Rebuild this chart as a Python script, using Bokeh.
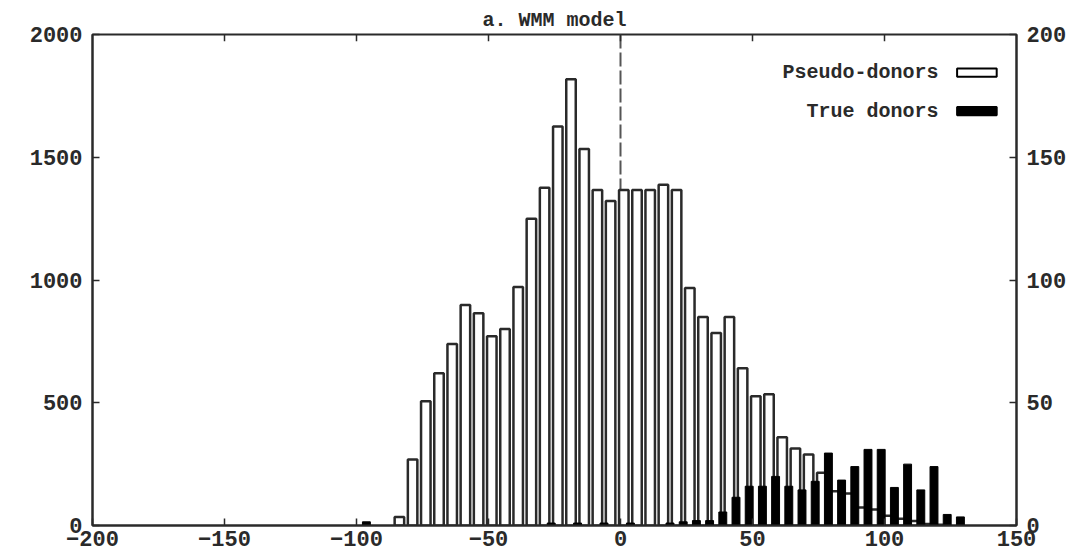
from bokeh.plotting import figure
from bokeh.models import Range1d, LinearAxis, FixedTicker, Span, Label, BoxAnnotation
from bokeh.embed import file_html
from bokeh.resources import INLINE

# ---- data (bin start of each 5-unit score bin) ----
pseudo_bins = [-85, -80, -75, -70, -65, -60, -55, -50, -45, -40, -35, -30, -25, -20, -15,
               -10, -5, 0, 5, 10, 15, 20, 25, 30, 35, 40, 45, 50, 55, 60, 65, 70, 75, 80,
               85, 90, 95, 100, 105, 110, 115, 120]
pseudo_counts = [35, 269, 506, 620, 739, 898, 865, 771, 800, 971, 1249, 1376, 1625, 1818, 1534,
                 1367, 1322, 1367, 1367, 1367, 1388, 1367, 967, 849, 784, 849, 641, 526, 535,
                 359, 314, 289, 215, 140, 130, 73, 65, 40, 28, 18, 6, 3]

true_bins = [-100, -30, -20, -10, 0, 15, 20, 25, 30, 35, 40, 45, 50, 55, 60, 65, 70, 75,
             80, 85, 90, 95, 100, 105, 110, 115, 120, 125]
true_counts = [1.5, 1, 1, 1, 1, 1, 1.5, 2, 2, 5.5, 11.5, 16, 16, 20, 16, 14.5, 18, 29.5,
               18.5, 24, 31, 31, 15.5, 25, 14.5, 24, 4.5, 3.5]

x_ticks = [-200, -150, -100, -50, 0, 50, 100, 150]
left_ticks = [0, 500, 1000, 1500, 2000]
right_ticks = [0, 50, 100, 150, 200]

title_text = "a. WMM model"
series_names = ["Pseudo-donors", "True donors"]

FONT = "Liberation Mono"
FS = "22px"
INK = "#2a2a2a"

p = figure(width=1085, height=555, output_backend="svg", toolbar_location=None,
           x_range=Range1d(-200, 150), y_range=Range1d(0, 2000),
           min_border_left=92, min_border_right=69, min_border_top=34, min_border_bottom=30)
p.extra_y_ranges = {"right": Range1d(0, 200)}

p.grid.visible = False
p.background_fill_color = "white"
p.border_fill_color = "white"
p.outline_line_color = INK
p.outline_line_width = 2

# title
p.title.text = title_text
p.title.align = "center"
p.title.text_font = FONT
p.title.text_font_style = "bold"
p.title.text_font_size = "20px"
p.title.text_color = INK
p.title.standoff = 5
p.title.offset = 0

def style_axis(ax, ticks):
    ax.ticker = FixedTicker(ticks=ticks)
    ax.minor_tick_line_color = None
    ax.major_tick_in = 7
    ax.major_tick_out = 0
    ax.major_tick_line_color = INK
    ax.major_tick_line_width = 1.5
    ax.axis_line_color = INK
    ax.axis_line_width = 2
    ax.major_label_text_font = FONT
    ax.major_label_text_font_style = "bold"
    ax.major_label_text_color = INK
    ax.major_label_text_font_size = FS

style_axis(p.xaxis[0], x_ticks)
p.xaxis[0].major_label_standoff = 5
style_axis(p.yaxis[0], left_ticks)
p.yaxis[0].major_label_standoff = 10

right_axis = LinearAxis(y_range_name="right")
style_axis(right_axis, right_ticks)
right_axis.major_label_standoff = 10
p.add_layout(right_axis, "right")

# mirrored inward ticks along the top border (gnuplot style)
top_tick_x = x_ticks[1:-1]
p.segment(x0=top_tick_x, y0=[2000] * len(top_tick_x), x1=top_tick_x,
          y1=[2000 - 28] * len(top_tick_x), line_color=INK, line_width=1.5)

# dashed line at score 0, drawn under the bars
p.add_layout(Span(location=0, dimension="height", line_color="#555555", line_width=2,
                  line_dash="14 4", level="underlay"))

# pseudo-donor bars (left axis)
px = [b + 1.25 for b in pseudo_bins]
p.vbar(x=px, top=pseudo_counts, bottom=0, width=3.6, fill_color="white",
       line_color=INK, line_width=2.5)

# true-donor bars (right axis)
tx = [b + 3.75 for b in true_bins]
p.vbar(x=tx, top=true_counts, bottom=0, width=3.0, fill_color="black",
       line_color="black", line_width=1, y_range_name="right")

# gnuplot-style key: text then sample box
for name, ycen, fill in [(series_names[0], 1845, "white"), (series_names[1], 1688, "black")]:
    p.add_layout(Label(x=120.5, y=ycen, text=name, text_align="right", text_baseline="middle",
                       text_font=FONT, text_font_style="bold", text_font_size="20px",
                       text_color=INK))
    p.add_layout(BoxAnnotation(left=127.5, right=142.5, bottom=ycen - 17, top=ycen + 17,
                               fill_color=fill, fill_alpha=1, line_color="black",
                               line_width=2, line_alpha=1))

open("out.html", "w").write(file_html(p, INLINE))
